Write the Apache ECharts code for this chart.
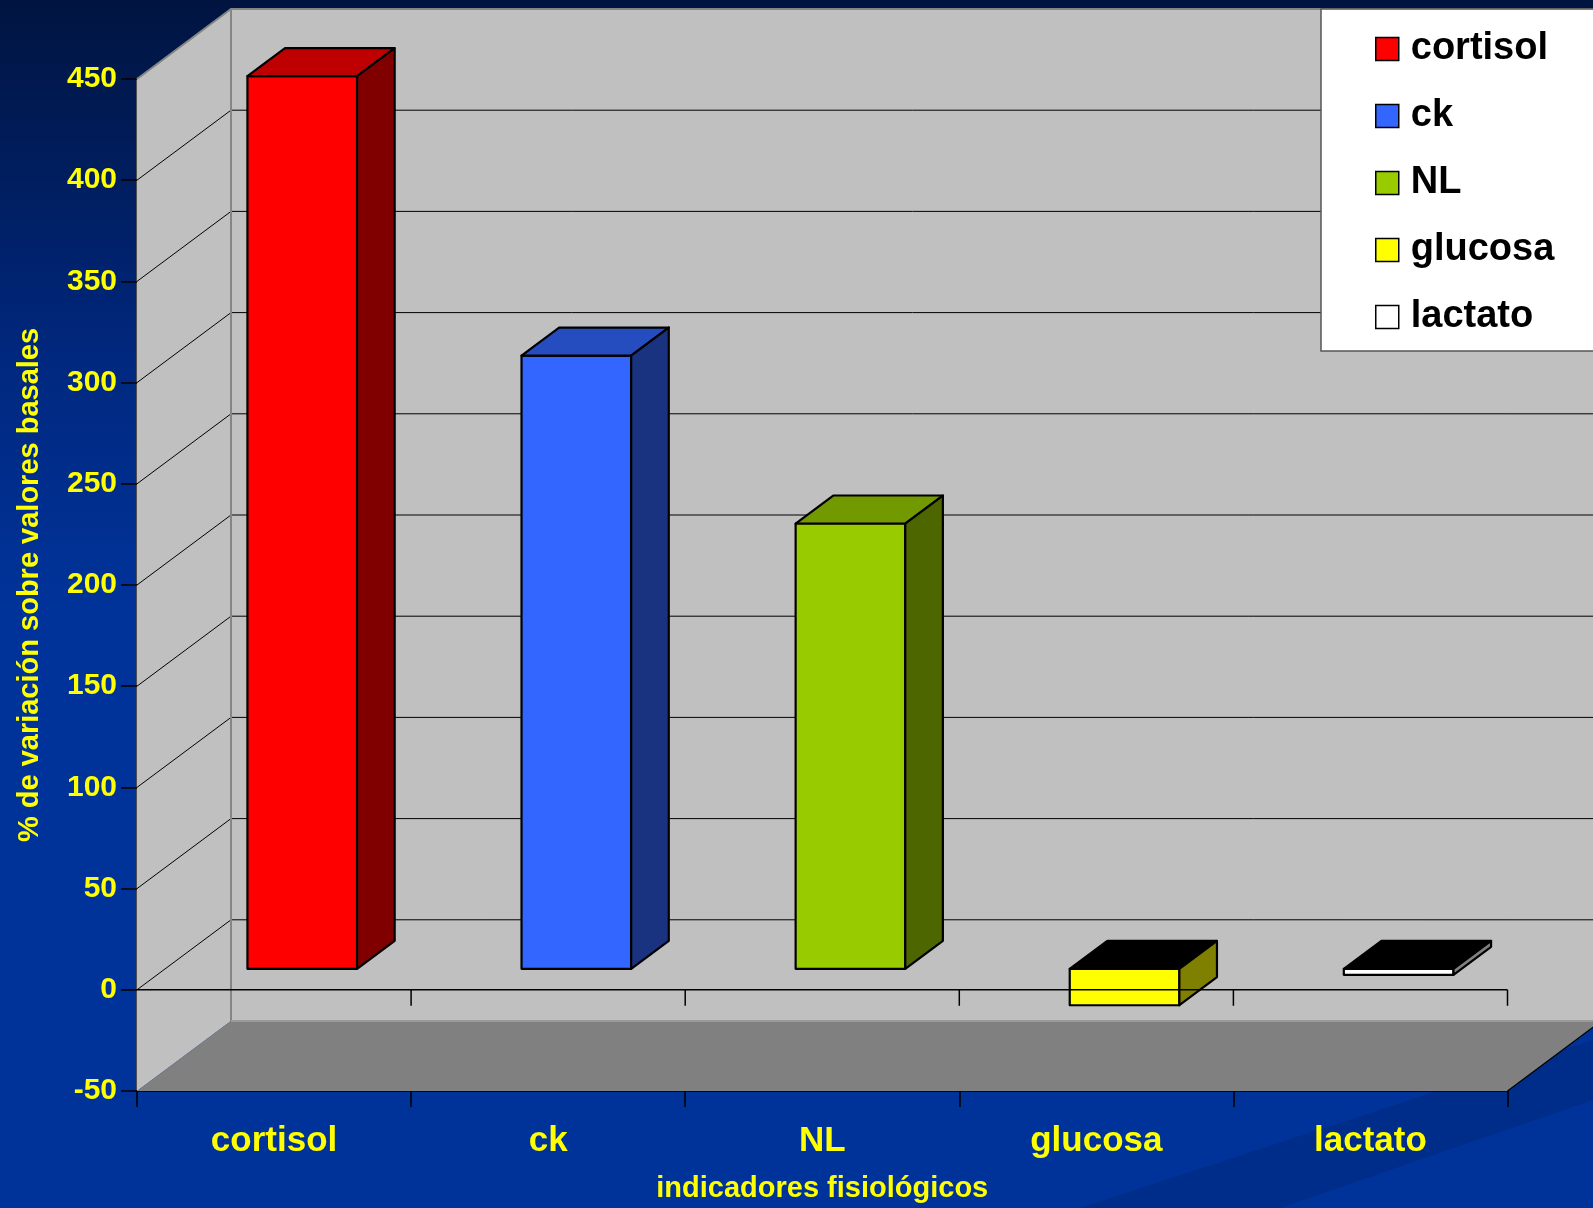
<!DOCTYPE html>
<html><head><meta charset="utf-8">
<script src="https://cdn.jsdelivr.net/npm/echarts@6/dist/echarts.min.js"></script>
<style>html,body{margin:0;padding:0;background:#003399}#c{width:1593px;height:1208px}</style>
</head><body><div id="c"></div>
<script>
// ---- data ----
const categories = ['cortisol', 'ck', 'NL', 'glucosa', 'lactato'];
const seriesNames = ['cortisol', 'ck', 'NL', 'glucosa', 'lactato'];
const seriesValues = [441, 303, 220, -18, -3];   // % de variación, one per indicator
const yTickValues = [-50, 0, 50, 100, 150, 200, 250, 300, 350, 400, 450];
const yAxisTitle = '% de variación sobre valores basales';
const xAxisTitle = 'indicadores fisiológicos';

// ---- style ----
const FONT = '"Liberation Sans", Arial, sans-serif';
const DEPTH = [94, -70];           // oblique projection of the chart depth
const BAR_FRONT = 0.3, BAR_BACK = 0.7, BAR_W = 0.4;
const faceColors = [
  { front: '#FF0000', top: '#BF0000', side: '#800000' },
  { front: '#3366FF', top: '#264DC0', side: '#1A3380' },
  { front: '#99CC00', top: '#739900', side: '#4D6600' },
  { front: '#FFFF00', top: '#BFBF00', side: '#808000' },
  { front: '#FFFFFF', top: '#BFBFBF', side: '#808080' }
];

const chart = echarts.init(document.getElementById('c'), null, { renderer: 'canvas' });

function makeBarRenderer(col) {
  return function (params, api) {
    const ci = api.value(0), v = api.value(1);
    const base = api.coord([ci, 0]);
    const tp = api.coord([ci, v]);
    const cw = api.size([1, 0])[0];
    const bw = cw * BAR_W;
    const f = [DEPTH[0] * BAR_FRONT, DEPTH[1] * BAR_FRONT];
    const b = [DEPTH[0] * BAR_BACK, DEPTH[1] * BAR_BACK];
    const xl = base[0] - bw / 2, xr = base[0] + bw / 2;
    const yTop = Math.min(base[1], tp[1]), yBot = Math.max(base[1], tp[1]);
    const st = { stroke: '#000', lineWidth: 2.2, lineJoin: 'round' };
    const topFill = v < 0 ? '#000000' : col.top;
    return {
      type: 'group',
      children: [
        { type: 'polygon', shape: { points: [[xl + f[0], yTop + f[1]], [xr + f[0], yTop + f[1]], [xr + f[0], yBot + f[1]], [xl + f[0], yBot + f[1]]] }, style: Object.assign({ fill: col.front }, st) },
        { type: 'polygon', shape: { points: [[xl + f[0], yTop + f[1]], [xr + f[0], yTop + f[1]], [xr + b[0], yTop + b[1]], [xl + b[0], yTop + b[1]]] }, style: Object.assign({ fill: topFill }, st) },
        { type: 'polygon', shape: { points: [[xr + f[0], yTop + f[1]], [xr + b[0], yTop + b[1]], [xr + b[0], yBot + b[1]], [xr + f[0], yBot + f[1]]] }, style: Object.assign({ fill: col.side }, st) }
      ]
    };
  };
}

function renderFrame(params, api) {
  const cs = params.coordSys;
  const x0 = cs.x, x1 = cs.x + cs.width, yT = cs.y, yB = cs.y + cs.height;
  const dx = DEPTH[0], dy = DEPTH[1];
  const ch = [];
  ch.push({ type: 'polygon', shape: { points: [[x0, yT], [x0 + dx, yT + dy], [x0 + dx, yB + dy], [x0, yB]] }, style: { fill: '#C0C0C0' } });
  ch.push({ type: 'rect', shape: { x: x0 + dx, y: yT + dy, width: x1 - x0, height: yB - yT }, style: { fill: '#C0C0C0' } });
  ch.push({ type: 'polygon', shape: { points: [[x0, yB], [x1, yB], [x1 + dx, yB + dy], [x0 + dx, yB + dy]] }, style: { fill: '#808080' } });
  const yMin = yTickValues[0], yMax = yTickValues[yTickValues.length - 1];
  yTickValues.forEach(function (v) {
    if (v <= yMin || v >= yMax) return;
    const y = api.coord([0, v])[1];
    ch.push({ type: 'line', shape: { x1: x0, y1: y, x2: x0 + dx, y2: y + dy }, style: { stroke: '#000', lineWidth: 1 } });
    ch.push({ type: 'line', shape: { x1: x0 + dx, y1: y + dy, x2: x1 + dx + 20, y2: y + dy }, style: { stroke: '#000', lineWidth: 1 } });
  });
  const edge = { stroke: '#858585', lineWidth: 2 };
  ch.push({ type: 'polyline', shape: { points: [[x0, yT], [x0 + dx, yT + dy], [x1 + dx + 20, yT + dy]] }, style: Object.assign({ fill: null }, edge) });
  ch.push({ type: 'line', shape: { x1: x0 + dx, y1: yT + dy, x2: x0 + dx, y2: yB + dy }, style: edge });
  ch.push({ type: 'line', shape: { x1: x0 + dx, y1: yB + dy, x2: x1 + dx + 20, y2: yB + dy }, style: { stroke: '#9a9a9a', lineWidth: 2 } });
  ch.push({ type: 'line', shape: { x1: x1, y1: yB, x2: x1 + dx, y2: yB + dy }, style: { stroke: '#000', lineWidth: 1.2 } });
  return { type: 'group', children: ch };
}

function renderZeroLine(params, api) {
  const cs = params.coordSys;
  const y = api.coord([0, 0])[1];
  const cw = api.size([1, 0])[0];
  const ch = [{ type: 'line', shape: { x1: cs.x, y1: y, x2: cs.x + cs.width, y2: y }, style: { stroke: '#000', lineWidth: 1.5 } }];
  for (let i = 0; i < categories.length; i++) {
    const xb = api.coord([i, 0])[0] + cw / 2;
    ch.push({ type: 'line', shape: { x1: xb, y1: y, x2: xb, y2: y + 16 }, style: { stroke: '#000', lineWidth: 1.5 } });
  }
  return { type: 'group', children: ch };
}

const barSeries = seriesNames.map(function (name, i) {
  return {
    type: 'custom',
    name: name,
    z: 3,
    renderItem: makeBarRenderer(faceColors[i]),
    itemStyle: { color: faceColors[i].front },
    encode: { x: 0, y: 1 },
    data: [[i, seriesValues[i]]]
  };
});

const option = {
  backgroundColor: {
    type: 'linear', x: 0, y: 0, x2: 0, y2: 1,
    colorStops: [
      { offset: 0, color: '#001440' },
      { offset: 0.3, color: '#00287F' },
      { offset: 0.5, color: '#003399' },
      { offset: 1, color: '#003399' }
    ]
  },
  animation: false,
  textStyle: { fontFamily: FONT },
  graphic: [
    { type: 'polygon', z: 0, silent: true, shape: { points: [[1080, 1208], [1593, 1040], [1593, 1100], [1280, 1208]] }, style: { fill: 'rgba(0,10,60,0.16)' } },
    { type: 'rect', z: 10, silent: true, shape: { x: 1321, y: 9, width: 300, height: 342 }, style: { fill: '#FFFFFF', stroke: '#555', lineWidth: 1.5 } }
  ],
  legend: {
    z: 12,
    orient: 'vertical',
    left: 1370, top: 24,
    itemWidth: 23, itemHeight: 23, itemGap: 27,
    icon: 'rect',
    itemStyle: { borderColor: '#000', borderWidth: 1.5 },
    textStyle: { fontFamily: FONT, fontSize: 38, fontWeight: 'bold', color: '#000', lineHeight: 40, padding: [0, 0, 0, 7] },
    data: seriesNames,
    selectedMode: false
  },
  grid: { left: 137, right: 85.5, top: 79, bottom: 115 },
  xAxis: {
    type: 'category',
    data: categories,
    boundaryGap: true,
    axisLine: { onZero: false, lineStyle: { color: '#000', width: 1.5 } },
    axisTick: { show: true, length: 16, lineStyle: { color: '#000', width: 1.5 } },
    axisLabel: { color: '#FFFF00', fontSize: 35, fontWeight: 'bold', fontFamily: FONT, margin: 33 },
    name: xAxisTitle,
    nameLocation: 'middle',
    nameGap: 83,
    nameTextStyle: { color: '#FFFF00', fontSize: 29, fontWeight: 'bold', fontFamily: FONT },
    splitLine: { show: false }
  },
  yAxis: {
    type: 'value',
    min: yTickValues[0], max: yTickValues[yTickValues.length - 1], interval: 50,
    axisLine: { show: true, lineStyle: { color: '#505050', width: 2 } },
    axisTick: { show: true, length: 16, lineStyle: { color: '#000', width: 1.5 } },
    axisLabel: { color: '#FFFF00', fontSize: 30, fontWeight: 'bold', fontFamily: FONT, margin: 20 },
    splitLine: { show: false },
    name: yAxisTitle,
    nameLocation: 'middle',
    nameGap: 93,
    nameRotate: 90,
    nameTextStyle: { color: '#FFFF00', fontSize: 29, fontWeight: 'bold', fontFamily: FONT }
  },
  series: [
    { type: 'custom', name: '_frame', z: 1, silent: true, renderItem: renderFrame, encode: { x: 0, y: 1 }, data: [[0, 0]] }
  ].concat(barSeries).concat([
    { type: 'custom', name: '_zero', z: 5, silent: true, renderItem: renderZeroLine, encode: { x: 0, y: 1 }, data: [[0, 0]] }
  ])
};
chart.setOption(option);
</script>
</body></html>
